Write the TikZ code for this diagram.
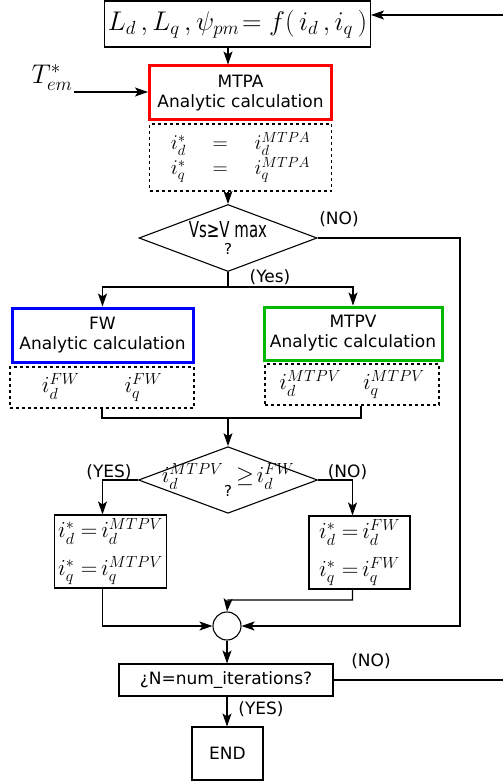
\RequirePackage{fix-cm}
\documentclass[tikz,border=0pt]{standalone}
\usepackage{amsmath}
\usepackage{fontspec}
\setmainfont{DejaVu Sans}
\usetikzlibrary{shapes,positioning,calc,arrows.meta}

\definecolor{mtpared}{RGB}{255,0,0}
\definecolor{fwblue}{RGB}{0,0,255}
\definecolor{mtpvgreen}{RGB}{0,185,0}

\tikzset{
	arr/.style={-{Stealth[length=13pt,width=9pt,inset=3pt]}},
	outbox/.style={draw, dash pattern=on 3pt off 3pt},
	calcbox/.style={draw=#1, line width=3pt, align=center},
	decision/.style={draw, diamond, aspect=2.66, inner sep=-6pt, align=center}
}

\begin{document}
\begin{tikzpicture}[x=1pt,y=-1pt,line width=1.1pt,
	font=\fontsize{17}{20}\selectfont]

	\useasboundingbox (0,0) rectangle (503,781);

	\node[draw,
		minimum width=241pt,
		minimum height=46pt,
		font=\fontsize{27}{30}\selectfont] (lut) at (237.5,24)
		{$L_d\,, L_q\,,\psi_{pm}\!= f(\,i_d\,, i_q\,)$};

	\node[calcbox=mtpared,
		minimum width=182pt,
		minimum height=54pt] (mtpa) at (240.5,93) {MTPA\\Analytic calculation};

	\node[anchor=south east,
		inner sep=1pt,
		font=\fontsize{27}{30}\selectfont] (tem) at (74,92) {$T^*_{em}$};

	\node[outbox,
		minimum width=182pt,
		minimum height=67pt,
		align=center,
		font=\fontsize{21}{25}\selectfont] (mtpaout) at (240.5,157.5)
		{$i^*_d \quad = \quad i^{MTPA}_d$\\$i^*_q \quad = \quad i^{MTPA}_q$};

	\node[decision,
		minimum width=178pt,
		minimum height=67pt] (vcheck) at (228,238)
		{{\fontsize{22}{24}\selectfont\scalebox{0.68}[1]{Vs≥V max}}\\[-3pt]{\fontsize{15}{15}\selectfont ?}};

	\node[calcbox=fwblue,
		minimum width=181pt,
		minimum height=54pt] (fw) at (102.5,335) {FW\\Analytic calculation};

	\node[outbox,
		minimum width=184pt,
		minimum height=41pt,
		font=\fontsize{23}{24}\selectfont] (fwout) at (102,387.5)
		{$i^{FW}_d \hspace{45pt} i^{FW}_q$};

	\node[calcbox=mtpvgreen,
		minimum width=178pt,
		minimum height=53pt] (mtpv) at (353,333.5) {MTPV\\Analytic calculation};

	\node[outbox,
		minimum width=174pt,
		minimum height=41pt,
		font=\fontsize{23}{24}\selectfont] (mtpvout) at (352,384.5)
		{$i^{MTPV}_d \hspace{22pt} i^{MTPV}_q$};

	\node[decision,
		minimum width=179pt,
		minimum height=66pt] (cmp) at (228,480)
		{{\fontsize{23}{24}\selectfont$i^{MTPV}_d\;\geq\! i^{FW}_d$}\\[-6pt]{\fontsize{15}{15}\selectfont ?}};

	\node[draw,
		minimum width=112pt,
		minimum height=73pt,
		align=center,
		font=\fontsize{23}{38}\selectfont] (selmtpv) at (110.5,551.5)
		{$i^*_d\;{=}\,i^{MTPV}_d$\\$i^*_q\;{=}\,i^{MTPV}_q$};

	\node[draw,
		minimum width=101pt,
		minimum height=73pt,
		align=center,
		font=\fontsize{23}{38}\selectfont] (selfw) at (359.5,552.5)
		{$i^*_d\;{=}\,i^{FW}_d$\\$i^*_q\;{=}\,i^{FW}_q$};

	\node[draw,
		circle,
		minimum size=28pt,
		inner sep=0pt] (sum) at (227,626) {};

	\node[draw,
		minimum width=214pt,
		minimum height=32pt] (iter) at (226,680) {¿N=num\_iterations?};

	\node[draw,
		minimum width=71pt,
		minimum height=53pt] (end) at (227.5,753.5) {END};

	% branch labels
	\node (vno) at (339,219) {(NO)};
	\node (vyes) at (270,277) {(Yes)};
	\node (cyes) at (109,472) {(YES)};
	\node (cno) at (347.5,472) {(NO)};
	\node (ino) at (371,661) {(NO)};
	\node (iyes) at (261,709) {(YES)};

	\coordinate (split) at (228,287);
	\coordinate (merge) at (228,418);
	\coordinate (join) at (228,600);
	\coordinate (nobus) at (460,626);
	\coordinate (fbout) at (503,680);
	\coordinate (fbin) at (503,15);

	\draw (lut.south -| vcheck) edge[arr] (mtpa.north -| vcheck)
	(tem.south east) edge[arr] (tem.south east -| mtpa.west)
	(mtpaout.south -| vcheck) edge[arr] (vcheck.north)
	(merge) edge[arr] (cmp.north)
	(sum.south) edge[arr] (sum.south |- iter.north)
	(iter.south -| sum) edge[arr] (end.north -| sum)
	(fbin) edge[arr] (fbin -| lut.east);

	\draw[arr] (vcheck.east) -| (nobus) -- (sum.east);
	\draw (vcheck.south) -- (split);
	\draw[arr] (split) -| (fw.north);
	\draw[arr] (split) -| (mtpv.north);

	\draw (fwout.south) |- (merge);
	\draw ([xshift=9pt]mtpvout.south) |- (merge);

	\draw[arr] (cmp.west) -| ([xshift=-8pt]selmtpv.north);
	\draw[arr] (cmp.east) -| ([xshift=-7pt]selfw.north);

	\draw[arr] ([xshift=-7pt]selfw.south) |- (join) -- (sum.north);
	\draw[arr] ([xshift=-8pt]selmtpv.south) |- (sum.west);

	\draw (iter.east) -- (fbout);

\end{tikzpicture}
\end{document}
